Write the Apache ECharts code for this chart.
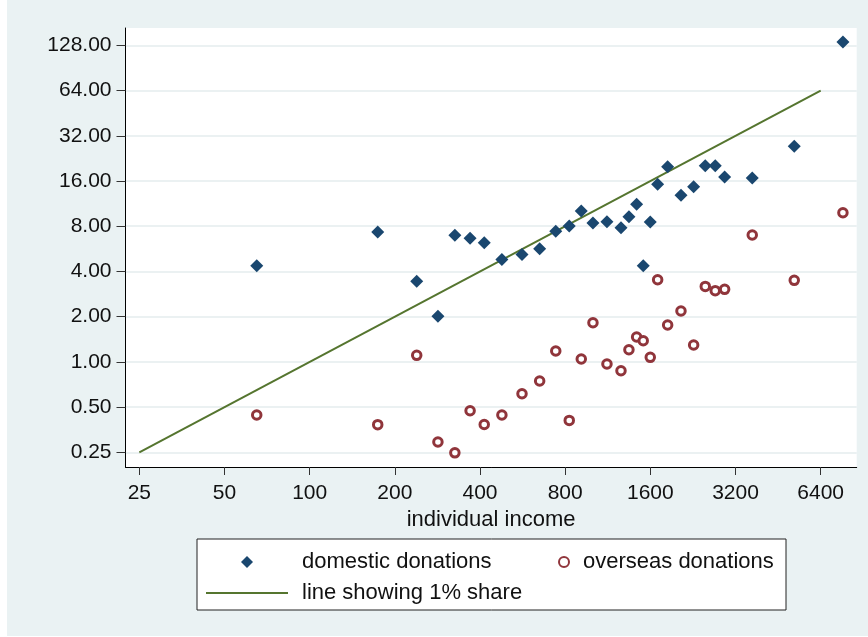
<!DOCTYPE html>
<html>
<head>
<meta charset="utf-8">
<script src="https://cdn.jsdelivr.net/npm/echarts@6/dist/echarts.min.js"></script>
<style>
html,body{margin:0;padding:0;background:#fff;}
#bg{position:absolute;left:7px;top:0;width:861px;height:636px;background:#EAF2F3;}
#chart{position:absolute;left:0;top:0;width:868px;height:637px;}
</style>
</head>
<body>
<div id="bg"></div>
<div id="chart"></div>
<script>
// individual income (x) and donations (y)
var income = [65, 174, 239, 284, 326, 369, 414, 478, 563, 650, 741, 827, 912, 1003, 1124, 1260, 1344, 1431, 1510, 1599, 1698, 1842, 2053, 2276, 2502, 2713, 2929, 3667, 5161, 7670];
var domestic = [4.37, 7.32, 3.44, 2.01, 6.96, 6.65, 6.21, 4.80, 5.18, 5.67, 7.40, 8.02, 10.10, 8.40, 8.57, 7.82, 9.25, 11.19, 4.36, 8.53, 15.21, 19.91, 12.85, 14.66, 20.22, 20.22, 17.01, 16.75, 27.22, 134.7];
var overseas = [0.443, 0.382, 1.106, 0.293, 0.248, 0.473, 0.383, 0.443, 0.614, 0.746, 1.181, 0.408, 1.045, 1.823, 0.968, 0.873, 1.205, 1.464, 1.383, 1.072, 3.52, 1.759, 2.18, 1.295, 3.18, 2.98, 3.04, 6.99, 3.49, 9.84];
var shareLineX = [25, 6400];
var shareLineY = [0.25, 64];
var xTicks = [25, 50, 100, 200, 400, 800, 1600, 3200, 6400];
var yTicks = [0.25, 0.5, 1, 2, 4, 8, 16, 32, 64, 128];
var xRange = [22.34, 8580];
var yRange = [0.1997, 166.9];

var L = function (v) { return Math.log2(v); };
function pairs(xs, ys) { return xs.map(function (x, i) { return [L(x), L(ys[i])]; }); }

var FONT = '"Liberation Sans", Arial, sans-serif';
var legendText = function (padLeft) {
  return {fontSize: 22, color: '#111', fontFamily: FONT, lineHeight: 22, padding: [0, 0, 0, padLeft]};
};
var chart = echarts.init(document.getElementById('chart'), null, {renderer: 'canvas'});
chart.setOption({
  backgroundColor: 'transparent',
  animation: false,
  textStyle: {fontFamily: FONT},
  graphic: [{
    type: 'rect', z: -10,
    shape: {x: 197, y: 539, width: 589, height: 71},
    style: {fill: '#ffffff', stroke: '#222', lineWidth: 1}
  }],
  grid: {
    left: 125.5, right: 11.3, top: 28, bottom: 170,
    show: true, backgroundColor: '#ffffff', borderWidth: 0,
    containLabel: false, outerBoundsMode: 'none'
  },
  xAxis: {
    type: 'value',
    min: L(xRange[0]), max: L(xRange[1]),
    name: 'individual income',
    nameLocation: 'middle',
    nameGap: 38,
    nameTextStyle: {fontSize: 22, color: '#111', fontFamily: FONT},
    axisLine: {show: true, onZero: false, lineStyle: {color: '#000', width: 1}},
    axisTick: {show: true, length: 8, lineStyle: {color: '#333'}, customValues: xTicks.map(L)},
    axisLabel: {
      customValues: xTicks.map(L), margin: 16, fontSize: 21, color: '#111', fontFamily: FONT,
      formatter: function (v) { return String(Math.round(Math.pow(2, v))); }
    },
    splitLine: {show: false}
  },
  yAxis: {
    type: 'value',
    min: L(yRange[0]), max: L(yRange[1]),
    axisLine: {show: true, onZero: false, lineStyle: {color: '#000', width: 1}},
    axisTick: {show: true, length: 9, lineStyle: {color: '#333'}, customValues: yTicks.map(L)},
    axisLabel: {
      customValues: yTicks.map(L), margin: 14, fontSize: 21, color: '#111', fontFamily: FONT,
      padding: [4, 0, 0, 0],
      formatter: function (v) { return Math.pow(2, v).toFixed(2); }
    },
    splitLine: {show: true, lineStyle: {color: '#E4ECEE', width: 1.5}}
  },
  legend: [{
    orient: 'vertical', left: 241, top: 551, padding: 0,
    itemWidth: 12, itemHeight: 12,
    data: [{name: 'domestic donations', icon: 'diamond'}],
    textStyle: legendText(44)
  }, {
    orient: 'vertical', left: 206, top: 582, padding: 0,
    itemWidth: 82, itemHeight: 2,
    data: [{name: 'line showing 1% share', icon: 'rect'}],
    textStyle: legendText(9)
  }, {
    orient: 'vertical', left: 558, top: 551, padding: 0,
    itemWidth: 10, itemHeight: 10,
    data: ['overseas donations'],
    textStyle: legendText(9)
  }],
  series: [{
    name: 'domestic donations', type: 'scatter', symbol: 'diamond', symbolSize: 13,
    itemStyle: {color: '#1A476F', opacity: 1},
    data: pairs(income, domestic), z: 3
  }, {
    name: 'overseas donations', type: 'scatter', symbol: 'circle', symbolSize: 8.5,
    itemStyle: {color: '#ffffff', borderColor: '#90353B', borderWidth: 3, opacity: 1},
    data: pairs(income, overseas), z: 3
  }, {
    name: 'line showing 1% share', type: 'line', symbol: 'none',
    lineStyle: {color: '#55752F', width: 2},
    itemStyle: {color: '#55752F'},
    data: pairs(shareLineX, shareLineY), z: 2
  }]
});
</script>
</body>
</html>
